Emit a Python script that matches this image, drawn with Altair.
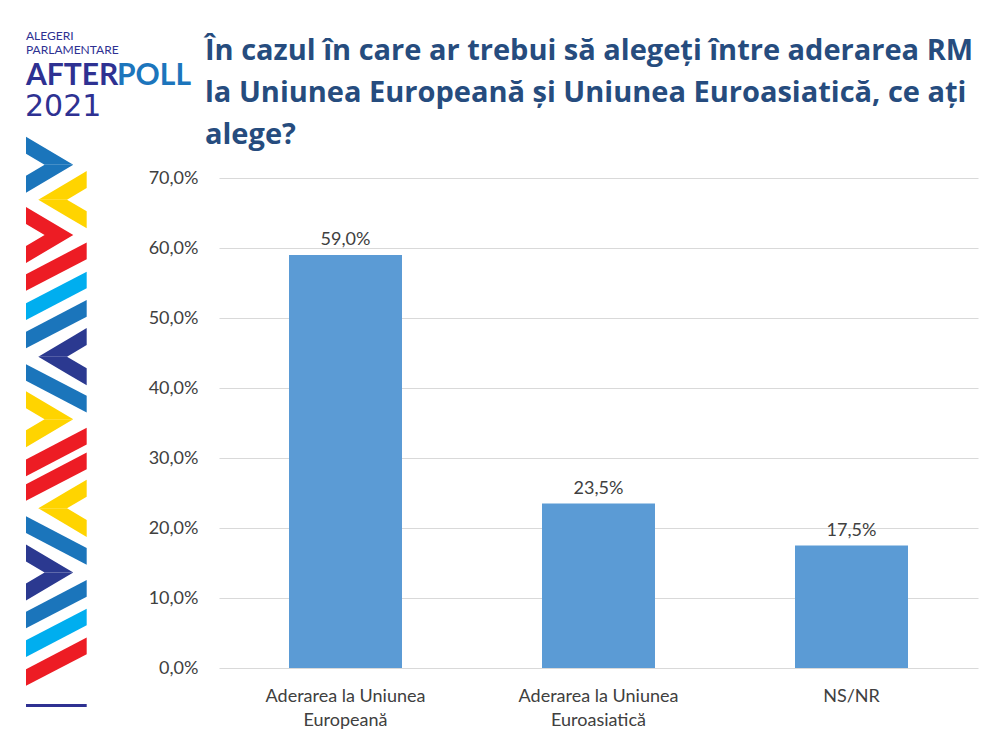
import altair as alt
import pandas as pd

# ---------------- data ----------------
categories = ["Aderarea la Uniunea\nEuropeană", "Aderarea la Uniunea\nEuroasiatică", "NS/NR"]
values = [59.0, 23.5, 17.5]
y_ticks = [0, 10, 20, 30, 40, 50, 60, 70]

title_lines = [
    "În cazul în care ar trebui să alegeți între aderarea RM",
    "la Uniunea Europeană și Uniunea Euroasiatică, ce ați",
    "alege?",
]
logo_small = ["ALEGERI", "PARLAMENTARE"]
logo_after = "AFTER"
logo_poll = "POLL"
logo_year = "2021"

# decorative chevron strip (kind, colour, vertical centre on the page)
strip_kinds = [">", "<", ">", "/", "/", "/", "<", "\\", ">", "/", "/", "<", "\\", ">", "/", "/", "/"]
strip_colors = ["#1B75BB", "#FFD400", "#ED1C24", "#ED1C24", "#00AEEF", "#1B75BB", "#2B3990",
                "#1B75BB", "#FFD400", "#ED1C24", "#ED1C24", "#FFD400", "#1B75BB", "#2B3990",
                "#1B75BB", "#00AEEF", "#ED1C24"]
strip_centers = [164.7, 199.7, 235.0, 266.7, 295.8, 324.2, 356.7, 388.3, 419.2, 452.0,
                 476.7, 508.3, 540.5, 572.5, 604.2, 632.8, 661.7]

# ---------------- layout / style ----------------
PLOT_LEFT, PLOT_TOP, W, H = 219, 178, 759, 490
FONT = "Lato"
TXT = "#404040"
TITLE_COLOR = "#264C7E"
NAVY = "#2E3192"
LIGHT = "#1C75BC"

# ---------------- bar chart ----------------
df = pd.DataFrame({
    "cat": categories,
    "val": values,
    "label": [f"{v:.1f}".replace(".", ",") + "%" for v in values],
})

x_enc = alt.X(
    "cat:N", sort=categories,
    scale=alt.Scale(paddingInner=0.5534, paddingOuter=0.2767),
    axis=alt.Axis(title=None, labelAngle=0, labelExpr="split(datum.label, '\\n')",
                  labelFont=FONT, labelFontSize=18, labelColor=TXT, labelPadding=19,
                  labelLineHeight=24.5, domain=False, ticks=False, grid=False),
)
y_enc = alt.Y(
    "val:Q", scale=alt.Scale(domain=[0, 70], nice=False),
    axis=alt.Axis(title=None, values=y_ticks,
                  labelExpr="replace(format(datum.value, '.1f'), '.', ',') + '%'",
                  labelFont=FONT, labelFontSize=18, labelColor=TXT, labelPadding=21,
                  domain=False, ticks=False, gridColor="#D9D9D9", gridWidth=1),
)

bars = alt.Chart(df).mark_bar(color="#5B9BD5").encode(x=x_enc, y=y_enc)
bar_labels = alt.Chart(df).mark_text(
    font=FONT, fontSize=18, color=TXT, baseline="alphabetic", dy=-10
).encode(x=x_enc, y=y_enc, text="label:N")

bar_layer = alt.layer(bars, bar_labels)

# ---------------- decoration (page coordinates) ----------------
def dx(field):
    return alt.X(f"{field}:Q", axis=None,
                 scale=alt.Scale(domain=[0, 1000], range=[-PLOT_LEFT, 1000 - PLOT_LEFT],
                                 nice=False, zero=False))

def dy(field):
    return alt.Y(f"{field}:Q", axis=None, stack=None,
                 scale=alt.Scale(domain=[0, 756], range=[-PLOT_TOP, 756 - PLOT_TOP],
                                 nice=False, zero=False))

X0, X1 = 26.0, 86.7
rows = []
pid = 0

def add(color, pts):
    global pid
    for (xx, top, bot) in pts:
        rows.append({"part": pid, "color": color, "px": xx, "top": top, "bot": bot})
    pid += 1

t_c, s_c = 17.0, 0.592       # chevron arm thickness / slope
t_s, E = 16.7, 48.3          # diagonal stroke thickness / total extent
for kind, col, c in zip(strip_kinds, strip_colors, strip_centers):
    if kind == ">":
        tip = 73.3
        L = tip - X0
        T, B = c - s_c * L, c + s_c * L
        xin = tip - t_c / s_c
        add(col, [(X0, T, T + t_c), (xin, T + s_c * (xin - X0), c), (tip, c, c)])
        add(col, [(X0, B - t_c, B), (xin, c, B - s_c * (xin - X0)), (tip, c, c)])
    elif kind == "<":
        tip = 38.3
        L = X1 - tip
        T, B = c - s_c * L, c + s_c * L
        xin = tip + t_c / s_c
        add(col, [(X1, T, T + t_c), (xin, T + s_c * (X1 - xin), c), (tip, c, c)])
        add(col, [(X1, B - t_c, B), (xin, c, B - s_c * (X1 - xin)), (tip, c, c)])
    elif kind == "/":
        add(col, [(X0, c + E / 2 - t_s, c + E / 2), (X1, c - E / 2, c - E / 2 + t_s)])
    else:
        add(col, [(X0, c - E / 2, c - E / 2 + t_s), (X1, c + E / 2 - t_s, c + E / 2)])
add(NAVY, [(X0, 704.0, 707.0), (X1, 704.0, 707.0)])

strip_df = pd.DataFrame(rows)
strip = alt.Chart(strip_df).mark_area(orient="vertical", interpolate="linear").encode(
    x=dx("px"), y=dy("top"), y2="bot:Q", detail="part:N",
    color=alt.Color("color:N", scale=None),
)

title_df = pd.DataFrame({"text": title_lines, "px": [205, 205, 205],
                         "py": [59.5, 101.7, 143.7]})
title = alt.Chart(title_df).mark_text(
    align="left", baseline="alphabetic", font="Open Sans", fontWeight="bold",
    fontSize=29, color=TITLE_COLOR,
).encode(x=dx("px"), y=dy("py"), text="text:N")

small_df = pd.DataFrame({"text": logo_small, "px": [26, 26], "py": [40, 54]})
logo_small_t = alt.Chart(small_df).mark_text(
    align="left", baseline="alphabetic", font=FONT, fontSize=12, color=NAVY,
).encode(x=dx("px"), y=dy("py"), text="text:N")

after_df = pd.DataFrame({"text": [logo_after], "px": [26], "py": [85]})
after_t = alt.Chart(after_df).mark_text(
    align="left", baseline="alphabetic", font=FONT, fontWeight="bold", fontSize=30, color=NAVY,
).encode(x=dx("px"), y=dy("py"), text="text:N")

poll_df = pd.DataFrame({"text": [logo_poll], "px": [117], "py": [85]})
poll_t = alt.Chart(poll_df).mark_text(
    align="left", baseline="alphabetic", font=FONT, fontWeight="bold", fontSize=30, color=LIGHT,
).encode(x=dx("px"), y=dy("py"), text="text:N")

year_df = pd.DataFrame({"text": [logo_year], "px": [25], "py": [116]})
year_t = alt.Chart(year_df).mark_text(
    align="left", baseline="alphabetic", font="DejaVu Sans", fontSize=30, color=NAVY,
).encode(x=dx("px"), y=dy("py"), text="text:N")

deco_layer = alt.layer(strip, title, logo_small_t, after_t, poll_t, year_t)

chart = (
    alt.layer(bar_layer, deco_layer)
    .resolve_scale(x="independent", y="independent")
    .properties(width=W, height=H, background="white",
                padding={"left": 17, "top": 22, "right": 5, "bottom": 5})
    .configure_view(strokeWidth=0)
)

chart.save("out.html", embed_options={"renderer": "svg", "actions": False})
